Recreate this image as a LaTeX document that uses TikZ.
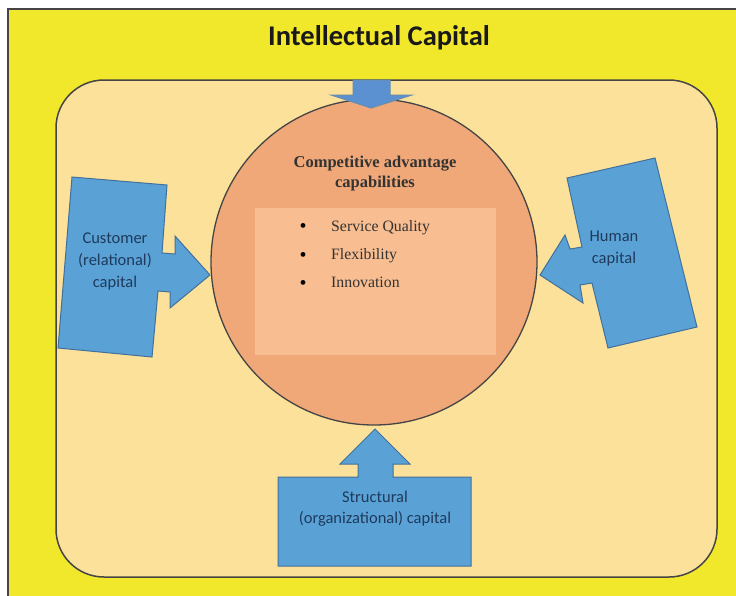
\documentclass[tikz,border=0pt]{standalone}
\usepackage{fontspec}
\setmainfont{Liberation Serif}
\newfontfamily\calfont{Carlito}
\definecolor{outery}{HTML}{F2E82B}
\definecolor{innery}{HTML}{FCE19A}
\definecolor{circf}{HTML}{F0A878}
\definecolor{boxf}{HTML}{F8BD90}
\definecolor{bluef}{HTML}{5AA2D6}
\definecolor{blueb}{HTML}{41709C}
\definecolor{topb}{HTML}{5B8FD0}
\definecolor{linec}{HTML}{454545}
\definecolor{bluet}{HTML}{1F3A5C}
\tikzset{
  outerbox/.style={fill=outery,draw=linec,line width=1.5pt},
  innerbox/.style={fill=innery,draw=linec,line width=1.5pt,rounded corners=48pt},
  circbox/.style={fill=circf,draw=linec,line width=1.3pt},
  arrowshape/.style={fill=bluef,draw=blueb,line width=1pt,line join=miter},
  arrowtxt/.style={font=\calfont\fontsize{16.5}{22}\selectfont,text=bluet,align=center,inner sep=0pt},
  itemtxt/.style={font=\fontsize{15.8}{17}\selectfont,text=black!80,anchor=base west,inner sep=0pt},
  bul/.style={font=\fontsize{20}{20}\selectfont,anchor=base,inner sep=0pt}
}
\begin{document}
\begin{tikzpicture}[x=1pt,y=-1pt]
\useasboundingbox (0,0) rectangle (736,595);
\begin{scope}
\clip (0,0) rectangle (736,595);
\fill[white] (0,0) rectangle (736,595);
\draw[outerbox] (8,9) rectangle (760,610);
\draw[innerbox] (56,80) rectangle (717,577);
\node[circle,circbox,minimum size=326pt,inner sep=0pt] (circ) at (374,262) {};
\fill[boxf] (255,208) rectangle (496,355);
% top arrow
\filldraw[arrowshape,fill=topb!90!bluef,draw=blueb!80] (353,80) -- (390,80) -- (390,95) -- (412,95) -- (371,108) -- (331,95) -- (353,95) -- cycle;
% left arrow
\filldraw[arrowshape] (72,177) -- (167,185) -- (162,253) -- (175,254) -- (175,236) -- (210,275) -- (170,308) -- (170,292) -- (158,291) -- (152,357) -- (58,348) -- cycle;
% right arrow
\filldraw[arrowshape] (567,178) -- (655,158) -- (697,327) -- (608,348) -- (592,283) -- (580,285) -- (583,303) -- (540,275) -- (565,235) -- (570,249) -- (582,247) -- cycle;
% bottom arrow
\filldraw[arrowshape] (278,477) -- (358,477) -- (358,464) -- (340,464) -- (375,429) -- (410,464) -- (393,464) -- (393,477) -- (471,477) -- (471,566) -- (278,566) -- cycle;
\end{scope}
\node[font=\calfont\bfseries\fontsize{28.5}{32}\selectfont,text=black!90] (title) at (379,38) {Intellectual Capital};
\node[font=\bfseries\fontsize{16.5}{20}\selectfont,align=center,text=black!80,inner sep=0pt] (head) at (375,174) {Competitive advantage\\capabilities};
\node[bul] (b1) at (303,232) {•};
\node[bul] (b2) at (303,261) {•};
\node[bul] (b3) at (303,289) {•};
\node[itemtxt] (i1) at (331,231) {Service Quality};
\node[itemtxt] (i2) at (331,259) {Flexibility};
\node[itemtxt] (i3) at (331,287) {Innovation};
\node[arrowtxt] (cust) at (115,261) {Customer\\(relational)\\capital};
\node[arrowtxt] (human) at (614,249) {Human\\capital};
\node[arrowtxt,font=\calfont\fontsize{16.5}{21}\selectfont] (struct) at (375,509) {Structural\\(organizational) capital};
\end{tikzpicture}
\end{document}
